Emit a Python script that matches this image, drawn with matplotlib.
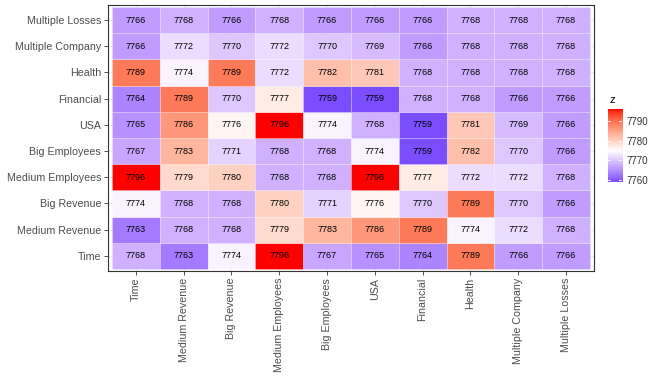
import numpy as np
import matplotlib
matplotlib.use("Agg")
import matplotlib.pyplot as plt
from matplotlib.colors import ListedColormap, Normalize

plt.rcParams['font.family'] = ['Liberation Sans', 'DejaVu Sans']

x_labels = ["Time", "Medium Revenue", "Big Revenue", "Medium Employees", "Big Employees",
            "USA", "Financial", "Health", "Multiple Company", "Multiple Losses"]
y_labels = x_labels  # bottom to top

# rows listed bottom (Time) to top (Multiple Losses)
z_time = [7768, 7763, 7774, 7796, 7767, 7765, 7764, 7789, 7766, 7766]
z_medium_revenue = [7763, 7768, 7768, 7779, 7783, 7786, 7789, 7774, 7772, 7768]
z_big_revenue = [7774, 7768, 7768, 7780, 7771, 7776, 7770, 7789, 7770, 7766]
z_medium_employees = [7796, 7779, 7780, 7768, 7768, 7796, 7777, 7772, 7772, 7768]
z_big_employees = [7767, 7783, 7771, 7768, 7768, 7774, 7759, 7782, 7770, 7766]
z_usa = [7765, 7786, 7776, 7796, 7774, 7768, 7759, 7781, 7769, 7766]
z_financial = [7764, 7789, 7770, 7777, 7759, 7759, 7768, 7768, 7766, 7766]
z_health = [7789, 7774, 7789, 7772, 7782, 7781, 7768, 7768, 7768, 7768]
z_multiple_company = [7766, 7772, 7770, 7772, 7770, 7769, 7766, 7768, 7768, 7768]
z_multiple_losses = [7766, 7768, 7766, 7768, 7766, 7766, 7766, 7768, 7768, 7768]

z = np.array([z_time, z_medium_revenue, z_big_revenue, z_medium_employees, z_big_employees,
              z_usa, z_financial, z_health, z_multiple_company, z_multiple_losses])

midpoint = 7775


# --- Lab interpolation, like ggplot's scale_fill_gradient2 ---
def to_lab(rgb):
    rgb = np.asarray(rgb, float)
    lin = np.where(rgb <= 0.04045, rgb / 12.92, ((rgb + 0.055) / 1.055) ** 2.4)
    m = np.array([[0.4124, 0.3576, 0.1805],
                  [0.2126, 0.7152, 0.0722],
                  [0.0193, 0.1192, 0.9505]])
    xyz = m @ lin / np.array([0.95047, 1.0, 1.08883])
    f = np.where(xyz > 0.008856, np.cbrt(xyz), 7.787 * xyz + 16 / 116)
    return np.array([116 * f[1] - 16, 500 * (f[0] - f[1]), 200 * (f[1] - f[2])])


def from_lab(lab):
    fy = (lab[0] + 16) / 116
    fx = fy + lab[1] / 500
    fz = fy - lab[2] / 200
    f = np.array([fx, fy, fz])
    xyz = np.where(f ** 3 > 0.008856, f ** 3, (f - 16 / 116) / 7.787) * np.array([0.95047, 1.0, 1.08883])
    m = np.array([[3.2406, -1.5372, -0.4986],
                  [-0.9689, 1.8758, 0.0415],
                  [0.0557, -0.2040, 1.0570]])
    lin = m @ xyz
    rgb = np.where(lin <= 0.0031308, 12.92 * lin, 1.055 * np.clip(lin, 0, None) ** (1 / 2.4) - 0.055)
    return np.clip(rgb, 0, 1)


low, mid, high = to_lab([0, 0, 1]), to_lab([1, 1, 1]), to_lab([1, 0, 0])
colors = []
for t in np.linspace(0, 1, 256):
    if t < 0.5:
        s = t * 2
        colors.append(from_lab(low + (mid - low) * s))
    else:
        s = (t - 0.5) * 2
        colors.append(from_lab(mid + (high - mid) * s))
cmap = ListedColormap(colors)

span = max(abs(z.max() - midpoint), abs(z.min() - midpoint))
norm = Normalize(vmin=midpoint - span, vmax=midpoint + span)

fig = plt.figure(figsize=(6.59, 3.79), dpi=100)
ax = fig.add_axes([0.164, 0.285, 0.737, 0.702])

n = len(x_labels)
for i in range(n):
    for j in range(n):
        ax.add_patch(plt.Rectangle((j - 0.5, i - 0.5), 1, 1, facecolor=cmap(norm(z[i, j])),
                                   edgecolor=(1, 1, 1, 0.35), linewidth=0.4, zorder=2))
        ax.text(j, i, str(z[i, j]), ha="center", va="center", fontsize=6.5, color="black", zorder=3)

ax.set_xlim(-0.58, n - 0.42)
ax.set_ylim(-0.58, n - 0.42)
ax.set_xticks(range(n))
ax.set_yticks(range(n))
ax.set_xticklabels(x_labels, rotation=90, fontsize=7.7, color="#4d4d4d")
ax.set_yticklabels(y_labels, fontsize=7.7, color="#4d4d4d")
ax.tick_params(length=3, color="#333333", width=0.6, pad=2)
ax.grid(True, color="#ebebeb", linewidth=0.8, zorder=0)
ax.set_axisbelow(True)
for sp in ax.spines.values():
    sp.set_color("#333333")
    sp.set_linewidth(0.8)

# colourbar drawn as a small image
cax = fig.add_axes([0.922, 0.52, 0.022, 0.192])
vals = np.linspace(z.min(), z.max(), 200)
cax.imshow(vals[:, None], cmap=cmap, norm=norm, aspect="auto", origin="lower",
           extent=[0, 1, z.min(), z.max()])
cbar_ticks = [7760, 7770, 7780, 7790]
cax.set_xticks([])
cax.set_yticks(cbar_ticks)
cax.yaxis.tick_right()
cax.tick_params(axis="y", length=0, labelsize=7, labelcolor="#333333", pad=3)
for t in cbar_ticks:
    cax.plot([0, 0.2], [t, t], color="white", linewidth=0.6)
    cax.plot([0.8, 1], [t, t], color="white", linewidth=0.6)
cax.set_xlim(0, 1)
for sp in cax.spines.values():
    sp.set_visible(False)
fig.text(0.925, 0.722, "z", fontsize=8, color="black", ha="left", va="bottom")

fig.savefig("out.png", dpi=100)
